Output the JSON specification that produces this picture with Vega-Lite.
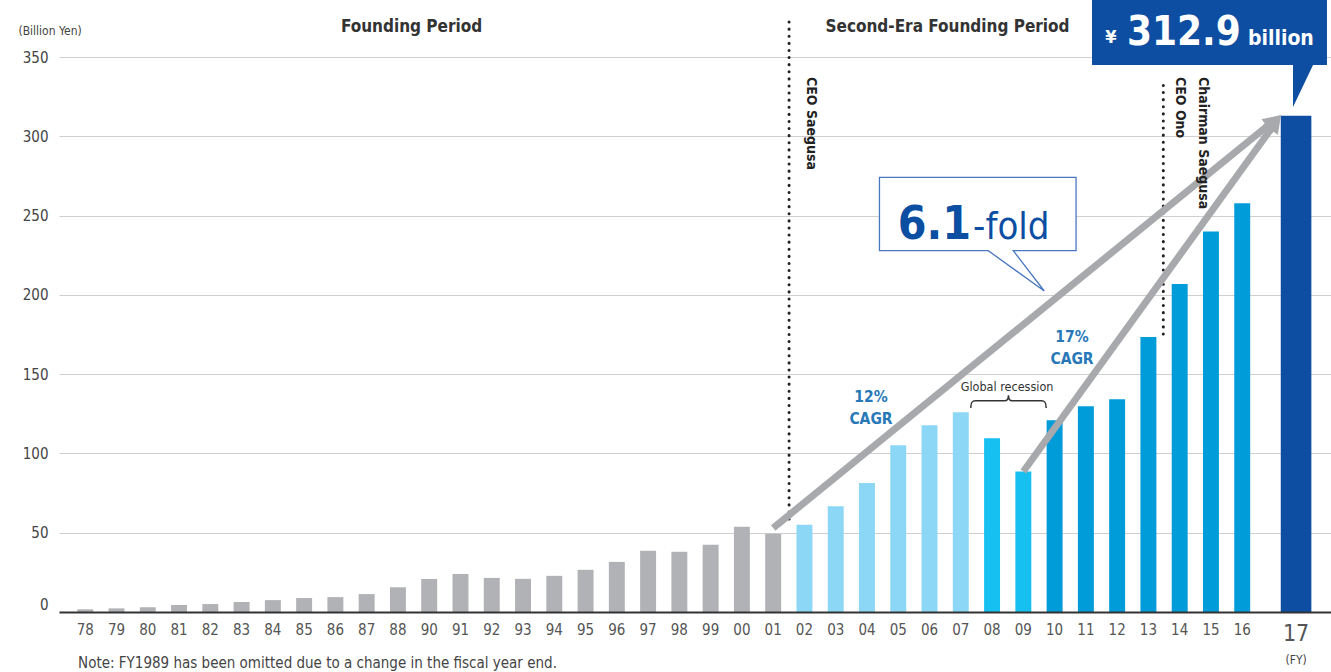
{
  "$schema": "https://vega.github.io/schema/vega-lite/v6.json",
  "autosize": {"type": "none"},
  "padding": {"left": 59, "top": 57, "right": 0, "bottom": 60},
  "width": 1272,
  "height": 555,
  "background": "white",
  "config": {
    "font": "DejaVu Sans Condensed, DejaVu Sans, Roboto",
    "view": {"stroke": null},
    "text": {"font": "DejaVu Sans Condensed, DejaVu Sans, Roboto"}
  },
  "data": {
    "values": [
      {"year": "78", "sales": 1.7, "era": "Founding"},
      {"year": "79", "sales": 2.3, "era": "Founding"},
      {"year": "80", "sales": 3.0, "era": "Founding"},
      {"year": "81", "sales": 4.4, "era": "Founding"},
      {"year": "82", "sales": 5.0, "era": "Founding"},
      {"year": "83", "sales": 6.3, "era": "Founding"},
      {"year": "84", "sales": 7.5, "era": "Founding"},
      {"year": "85", "sales": 8.8, "era": "Founding"},
      {"year": "86", "sales": 9.4, "era": "Founding"},
      {"year": "87", "sales": 11.3, "era": "Founding"},
      {"year": "88", "sales": 15.6, "era": "Founding"},
      {"year": "90", "sales": 20.8, "era": "Founding"},
      {"year": "91", "sales": 24.0, "era": "Founding"},
      {"year": "92", "sales": 21.5, "era": "Founding"},
      {"year": "93", "sales": 20.9, "era": "Founding"},
      {"year": "94", "sales": 22.8, "era": "Founding"},
      {"year": "95", "sales": 26.6, "era": "Founding"},
      {"year": "96", "sales": 31.6, "era": "Founding"},
      {"year": "97", "sales": 38.6, "era": "Founding"},
      {"year": "98", "sales": 38.0, "era": "Founding"},
      {"year": "99", "sales": 42.4, "era": "Founding"},
      {"year": "00", "sales": 53.8, "era": "Founding"},
      {"year": "01", "sales": 49.4, "era": "Founding"},
      {"year": "02", "sales": 55.1, "era": "SecondEra"},
      {"year": "03", "sales": 66.7, "era": "SecondEra"},
      {"year": "04", "sales": 81.3, "era": "SecondEra"},
      {"year": "05", "sales": 105.1, "era": "SecondEra"},
      {"year": "06", "sales": 117.7, "era": "SecondEra"},
      {"year": "07", "sales": 125.9, "era": "SecondEra"},
      {"year": "08", "sales": 109.5, "era": "Recession"},
      {"year": "09", "sales": 88.6, "era": "Recession"},
      {"year": "10", "sales": 121.0, "era": "Growth"},
      {"year": "11", "sales": 129.7, "era": "Growth"},
      {"year": "12", "sales": 134.2, "era": "Growth"},
      {"year": "13", "sales": 173.4, "era": "Growth"},
      {"year": "14", "sales": 206.9, "era": "Growth"},
      {"year": "15", "sales": 240.0, "era": "Growth"},
      {"year": "16", "sales": 257.8, "era": "Growth"},
      {"year": "17", "sales": 312.9, "era": "Latest"}
    ]
  },
  "layer": [
    {
      "transform": [{"filter": "datum.year != '17'"}],
      "mark": {"type": "bar"},
      "encoding": {
        "x": {
          "field": "year", "type": "ordinal", "sort": null,
          "scale": {
            "domain": ["78","79","80","81","82","83","84","85","86","87","88","90","91","92","93","94","95","96","97","98","99","00","01","02","03","04","05","06","07","08","09","10","11","12","13","14","15","16","gap","17"],
            "paddingInner": 0.49, "paddingOuter": 0.584
          },
          "axis": {
            "title": null, "ticks": false, "grid": false, "labelAngle": 0,
            "domainColor": "#333333", "domainWidth": 2, "zindex": 1,
            "labelPadding": 10, "labelColor": "#555555",
            "labelFontSize": {"condition": {"test": "datum.value == '17'", "value": 23}, "value": 15},
            "labelOffset": {"condition": {"test": "datum.value == '17'", "value": -8.7}, "value": 0},
            "labelExpr": "datum.value == 'gap' ? '' : datum.value"
          }
        },
        "y": {
          "field": "sales", "type": "quantitative",
          "scale": {"domain": [0, 350], "nice": false, "zero": true},
          "axis": {
            "values": [0, 50, 100, 150, 200, 250, 300, 350],
            "domain": false, "ticks": false, "gridColor": "#cfcfcf", "gridWidth": 1,
            "labelFontSize": 15, "labelColor": "#444444", "labelPadding": 11,
            "labelOffset": {"condition": {"test": "datum.value == 0", "value": -8}, "value": 0},
            "title": "(Billion Yen)", "titleAngle": 0, "titleAlign": "left", "titleBaseline": "alphabetic",
            "titleX": -41, "titleY": -23, "titleFontSize": 12, "titleFontWeight": "normal", "titleColor": "#444444"
          }
        },
        "color": {
          "field": "era", "type": "nominal", "legend": null,
          "scale": {
            "domain": ["Founding", "SecondEra", "Recession", "Growth", "Latest"],
            "range": ["#b1b2b6", "#8dd7f6", "#16c0f0", "#009bd9", "#0d4ea2"]
          }
        }
      }
    },
    {
      "transform": [{"filter": "datum.year == '17'"}],
      "mark": {"type": "bar", "width": 30.6, "xOffset": -8.7},
      "encoding": {
        "x": {"field": "year", "type": "ordinal"},
        "y": {"field": "sales", "type": "quantitative"},
        "color": {"field": "era", "type": "nominal", "legend": null}
      }
    },
    {
      "data": {"values": [{}]},
      "mark": {"type": "rule", "strokeDash": [0.1, 7], "strokeCap": "round", "strokeWidth": 3, "color": "#222222", "xOffset": 15.9},
      "encoding": {"x": {"datum": "01", "type": "ordinal"}, "y": {"datum": 58.6}, "y2": {"datum": 374.6}}
    },
    {
      "data": {"values": [{}]},
      "mark": {"type": "rule", "strokeDash": [0.1, 7], "strokeCap": "round", "strokeWidth": 3, "color": "#222222", "xOffset": 14.9},
      "encoding": {"x": {"datum": "13", "type": "ordinal"}, "y": {"datum": 175.3}, "y2": {"datum": 335.5}}
    },
    {
      "data": {"values": [{}]},
      "mark": {"type": "rule", "strokeWidth": 7, "color": "#a7a9ac", "x2Offset": -33},
      "encoding": {"x": {"datum": "01", "type": "ordinal"}, "x2": {"datum": "17"}, "y": {"datum": 53}, "y2": {"datum": 308.7}}
    },
    {
      "data": {"values": [{}]},
      "mark": {"type": "rule", "strokeWidth": 7, "color": "#a7a9ac", "x2Offset": -30.7},
      "encoding": {"x": {"datum": "09", "type": "ordinal"}, "x2": {"datum": "17"}, "y": {"datum": 88.6}, "y2": {"datum": 307.3}}
    },
    {
      "data": {"values": [{}]},
      "mark": {"type": "point", "shape": "M0,-1 L0.75,0.5 L-0.75,0.5 Z", "size": 576, "filled": true, "opacity": 1, "color": "#a7a9ac", "angle": 50.9, "xOffset": -33},
      "encoding": {"x": {"datum": "17", "type": "ordinal"}, "y": {"datum": 308.7}}
    },
    {
      "data": {"values": [{}]},
      "mark": {"type": "point", "shape": "M0,-1 L0.75,0.5 L-0.75,0.5 Z", "size": 576, "filled": true, "opacity": 1, "color": "#a7a9ac", "angle": 35.9, "xOffset": -30.7},
      "encoding": {"x": {"datum": "17", "type": "ordinal"}, "y": {"datum": 307.3}}
    },
    {
      "data": {"values": [{}]},
      "mark": {"type": "point", "shape": "M-0.983,-0.367 L0.983,-0.367 L0.983,0.367 L0.355,0.367 L0.665,0.77 L0.105,0.367 L-0.983,0.367 Z", "size": 40000, "filled": true, "opacity": 1, "fill": "#ffffff", "stroke": "#4a78c0", "strokeWidth": 1.3, "xOffset": -14.3},
      "encoding": {"x": {"datum": "08", "type": "ordinal"}, "y": {"datum": 251.0}}
    },
    {
      "data": {"values": [{}]},
      "mark": {"type": "text", "text": "6.1", "align": "right", "baseline": "alphabetic", "fontSize": 46, "fontWeight": "bold", "color": "#0b4ea2", "xOffset": -21},
      "encoding": {"x": {"datum": "08", "type": "ordinal"}, "y": {"datum": 235.4}}
    },
    {
      "data": {"values": [{}]},
      "mark": {"type": "text", "text": "-fold", "align": "left", "baseline": "alphabetic", "fontSize": 38, "color": "#0b4ea2", "xOffset": -19},
      "encoding": {"x": {"datum": "08", "type": "ordinal"}, "y": {"datum": 235.4}}
    },
    {
      "data": {"values": [{}]},
      "mark": {"type": "point", "shape": "M-0.979,-0.4 L0.979,-0.4 L0.979,0.271 L0.863,0.271 L0.696,0.621 L0.696,0.271 L-0.979,0.271 Z", "size": 57600, "filled": true, "opacity": 1, "color": "#0d4ea2", "xOffset": 29.8},
      "encoding": {"x": {"datum": "14", "type": "ordinal"}, "y": {"datum": 365.5}}
    },
    {
      "data": {"values": [{}]},
      "mark": {"type": "text", "text": "¥", "align": "center", "baseline": "alphabetic", "fontSize": 18, "fontWeight": "bold", "color": "#ffffff", "xOffset": -68.7},
      "encoding": {"x": {"datum": "14", "type": "ordinal"}, "y": {"datum": 358.8}}
    },
    {
      "data": {"values": [{}]},
      "mark": {"type": "text", "text": "312.9", "align": "left", "baseline": "alphabetic", "fontSize": 40, "fontWeight": "bold", "color": "#ffffff", "xOffset": -52.7},
      "encoding": {"x": {"datum": "14", "type": "ordinal"}, "y": {"datum": 357.6}}
    },
    {
      "data": {"values": [{}]},
      "mark": {"type": "text", "text": "billion", "align": "left", "baseline": "alphabetic", "fontSize": 21, "fontWeight": "bold", "color": "#ffffff", "xOffset": 68.3},
      "encoding": {"x": {"datum": "14", "type": "ordinal"}, "y": {"datum": 357.6}}
    },
    {
      "data": {"values": [{}]},
      "mark": {"type": "text", "text": ["12%", "CAGR"], "align": "center", "baseline": "alphabetic", "lineHeight": 22, "fontSize": 15.5, "fontWeight": "bold", "color": "#2878b8", "xOffset": 4},
      "encoding": {"x": {"datum": "04", "type": "ordinal"}, "y": {"datum": 132.4}}
    },
    {
      "data": {"values": [{}]},
      "mark": {"type": "text", "text": ["17%", "CAGR"], "align": "center", "baseline": "alphabetic", "lineHeight": 22, "fontSize": 15.5, "fontWeight": "bold", "color": "#2878b8", "xOffset": 17.4},
      "encoding": {"x": {"datum": "10", "type": "ordinal"}, "y": {"datum": 170.3}}
    },
    {
      "data": {"values": [{}]},
      "mark": {"type": "text", "text": "Global recession", "align": "center", "baseline": "alphabetic", "fontSize": 12.5, "color": "#333333", "xOffset": 15},
      "encoding": {"x": {"datum": "08", "type": "ordinal"}, "y": {"datum": 139.4}}
    },
    {
      "data": {"values": [{}]},
      "mark": {"type": "point", "shape": "M-1,0.17 C-1,0.03 -0.97,-0.02 -0.88,-0.02 L-0.1,-0.02 C-0.03,-0.02 0,-0.06 0,-0.17 C0,-0.06 0.03,-0.02 0.1,-0.02 L0.88,-0.02 C0.97,-0.02 1,0.03 1,0.17", "size": 5685, "filled": false, "opacity": 1, "stroke": "#333333", "strokeWidth": 1.5, "xOffset": 16.4},
      "encoding": {"x": {"datum": "08", "type": "ordinal"}, "y": {"datum": 132.7}}
    },
    {
      "data": {"values": [{}]},
      "mark": {"type": "text", "text": "CEO Saegusa", "angle": 90, "align": "left", "baseline": "middle", "fontSize": 14, "fontWeight": "bold", "color": "#222222", "xOffset": 6.6},
      "encoding": {"x": {"datum": "02", "type": "ordinal"}, "y": {"datum": 337.4}}
    },
    {
      "data": {"values": [{}]},
      "mark": {"type": "text", "text": "CEO Ono", "angle": 90, "align": "left", "baseline": "middle", "fontSize": 14, "fontWeight": "bold", "color": "#222222", "xOffset": 0.3},
      "encoding": {"x": {"datum": "14", "type": "ordinal"}, "y": {"datum": 337.4}}
    },
    {
      "data": {"values": [{}]},
      "mark": {"type": "text", "text": "Chairman Saegusa", "angle": 90, "align": "left", "baseline": "middle", "fontSize": 14, "fontWeight": "bold", "color": "#222222", "xOffset": 23.3},
      "encoding": {"x": {"datum": "14", "type": "ordinal"}, "y": {"datum": 337.4}}
    },
    {
      "data": {"values": [{}]},
      "mark": {"type": "text", "text": "Founding Period", "align": "center", "baseline": "alphabetic", "fontSize": 17, "fontWeight": "bold", "color": "#333333", "xOffset": 13.6},
      "encoding": {"x": {"datum": "88", "type": "ordinal"}, "y": {"datum": 365.8}}
    },
    {
      "data": {"values": [{}]},
      "mark": {"type": "text", "text": "Second-Era Founding Period", "align": "center", "baseline": "alphabetic", "fontSize": 17, "fontWeight": "bold", "color": "#333333", "xOffset": -13.3},
      "encoding": {"x": {"datum": "07", "type": "ordinal"}, "y": {"datum": 365.8}}
    },
    {
      "data": {"values": [{}]},
      "mark": {"type": "text", "text": "Note: FY1989 has been omitted due to a change in the fiscal year end.", "align": "left", "baseline": "middle", "fontSize": 15, "color": "#444444", "xOffset": -7.2},
      "encoding": {"x": {"datum": "78", "type": "ordinal"}, "y": {"datum": -32.2}}
    },
    {
      "data": {"values": [{}]},
      "mark": {"type": "text", "text": "(FY)", "align": "center", "baseline": "middle", "fontSize": 12, "color": "#444444", "xOffset": -8.7},
      "encoding": {"x": {"datum": "17", "type": "ordinal"}, "y": {"datum": -30.3}}
    }
  ]
}
